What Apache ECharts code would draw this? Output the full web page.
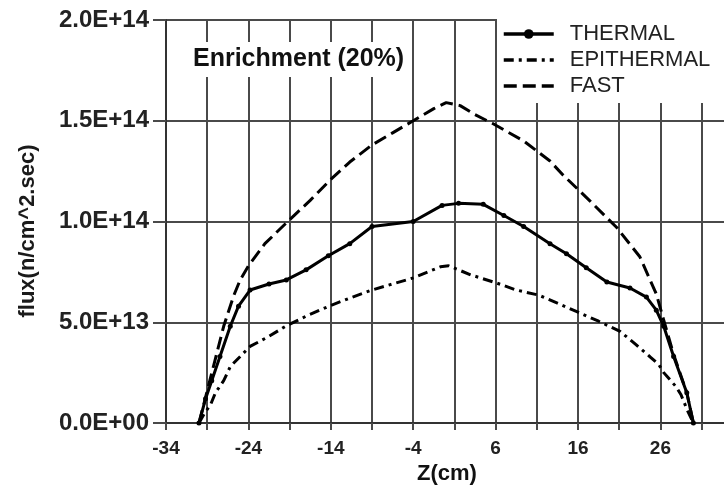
<!DOCTYPE html>
<html>
<head>
<meta charset="utf-8">
<title>Enrichment (20%)</title>
<script src="https://cdn.jsdelivr.net/npm/echarts@6/dist/echarts.min.js"></script>
<style>
  html, body { margin: 0; padding: 0; background: #fff; }
  #chart { width: 724px; height: 491px; }
</style>
</head>
<body>
<div id="chart"></div>
<script>
// flux values are in units of 1E+13 n/cm^2.sec
const thermalZ = [-30, -29.2, -28.45, -27.45, -26.2, -25.2, -23.8, -21.5, -19.4, -17, -14.3, -11.7, -9, -4, -0.5, 1.5, 4.5, 7, 9.4, 12.6, 14.6, 17, 19.5, 22.3, 24.3, 25.5, 26.4, 27.6, 29.2, 30]
const thermalFlux = [0, 1.2, 2.1, 3.3, 4.8, 5.8, 6.6, 6.9, 7.1, 7.6, 8.3, 8.9, 9.75, 10.0, 10.8, 10.9, 10.85, 10.3, 9.75, 8.9, 8.4, 7.7, 7.0, 6.7, 6.25, 5.6, 4.8, 3.3, 1.5, 0]

const epiZ = [-30, -29.3, -28.6, -28, -27, -26.2, -23.8, -21.5, -19.5, -17, -14.2, -11.7, -9, -4, -0.7, 0.3, 3, 6.1, 8.5, 11.2, 13.5, 16, 18.5, 21.1, 23, 24.7, 25.8, 26.4, 27.9, 28.5, 29.3, 30]
const epiFlux = [0, 0.5, 0.9, 1.5, 2.1, 2.8, 3.8, 4.3, 4.8, 5.3, 5.8, 6.2, 6.6, 7.2, 7.75, 7.8, 7.35, 6.95, 6.6, 6.35, 5.95, 5.5, 5.05, 4.55, 3.9, 3.3, 2.9, 2.5, 1.8, 1.4, 0.6, 0]

const fastZ = [-30, -29, -28, -27, -25.8, -25, -24, -22, -19.1, -16.5, -14.1, -11.7, -9, -6.5, -4, -1.5, 0, 1.7, 3.5, 5.7, 9.4, 12.6, 14.2, 17.5, 20.7, 23.5, 25.5, 26.4, 27.6, 29.2, 30]
const fastFlux = [0, 1.6, 3.2, 4.8, 6.3, 7.1, 7.8, 8.9, 10.05, 11.05, 12.05, 12.95, 13.8, 14.4, 15.0, 15.6, 15.9, 15.75, 15.3, 14.85, 14.0, 13.0, 12.3, 11.0, 9.7, 8.25, 6.4, 5.1, 3.4, 1.5, 0]

const xTickLabels = [-34, -24, -14, -4, 6, 16, 26]
const yTickLabels = ['0.0E+00', '5.0E+13', '1.0E+14', '1.5E+14', '2.0E+14']

// the axis starts at -34, so shift z by 34 to keep the 5 cm grid lined up with min
const Z_OFFSET = 34
const Z_MAX = 34.2

const pairs = (zs, fs) => zs.map((z, i) => [z + Z_OFFSET, fs[i]])

const FONT = 'Arial, "Liberation Sans", sans-serif'
const gridLine = { color: '#4a4a4a', width: 2 }

const chart = echarts.init(document.getElementById('chart'), null, { renderer: 'canvas' })
chart.setOption({
  animation: false,
  backgroundColor: '#fff',
  title: {
    text: 'Enrichment (20%)',
    left: 189,
    top: 42,
    padding: [5, 4, 5, 4],
    backgroundColor: '#fff',
    textStyle: { fontFamily: FONT, fontSize: 25, fontWeight: 'bold', color: '#111' }
  },
  legend: {
    orient: 'vertical',
    left: 497,
    top: 19,
    padding: [4, 60, 6, 5],
    backgroundColor: '#fff',
    itemWidth: 50,
    itemHeight: 12,
    itemGap: 4,
    lineStyle: { width: 3.5 },
    textStyle: { fontFamily: FONT, fontSize: 22, color: '#222', lineHeight: 20, padding: [0, 0, 0, 11] },
    data: [
      { name: 'THERMAL' },
      { name: 'EPITHERMAL', itemStyle: { opacity: 0 } },
      { name: 'FAST', itemStyle: { opacity: 0 } }
    ]
  },
  grid: {
    left: 166,
    right: -4,
    top: 20,
    bottom: 68,
    outerBoundsMode: 'none',
    containLabel: false
  },
  xAxis: {
    type: 'value',
    min: 0,
    max: Z_MAX + Z_OFFSET,
    interval: 5,
    name: 'Z(cm)',
    nameLocation: 'middle',
    nameGap: 39,
    nameTextStyle: { fontFamily: FONT, fontSize: 22, fontWeight: 'bold', color: '#111' },
    axisLine: { lineStyle: { color: '#333', width: 2 } },
    axisTick: { show: true, length: 7, lineStyle: gridLine },
    splitLine: { show: true, lineStyle: gridLine },
    axisLabel: {
      margin: 16,
      fontFamily: FONT,
      fontSize: 19,
      fontWeight: 'bold',
      color: '#222',
      formatter: v => xTickLabels.includes(v - Z_OFFSET) ? String(v - Z_OFFSET) : ''
    }
  },
  yAxis: {
    type: 'value',
    min: 0,
    max: 20,
    interval: 5,
    axisLine: { show: true, lineStyle: { color: '#333', width: 2 } },
    axisTick: { show: true, length: 13, lineStyle: gridLine },
    splitLine: { show: true, lineStyle: gridLine },
    axisLabel: {
      margin: 17,
      fontFamily: FONT,
      fontSize: 24,
      fontWeight: 'bold',
      color: '#222',
      formatter: v => yTickLabels[Math.round(v / 5)]
    }
  },
  graphic: [{
    type: 'text',
    x: 28,
    y: 231,
    rotation: Math.PI / 2,
    style: {
      text: 'flux(n/cm^2.sec)',
      fontFamily: FONT,
      fontSize: 22,
      fontWeight: 'bold',
      fill: '#1a1a1a',
      textAlign: 'center',
      textVerticalAlign: 'middle'
    }
  }],
  series: [
    {
      name: 'THERMAL',
      type: 'line',
      data: pairs(thermalZ, thermalFlux),
      symbol: 'circle',
      symbolSize: 5,
      itemStyle: { color: '#000' },
      lineStyle: { color: '#000', width: 3 }
    },
    {
      name: 'EPITHERMAL',
      type: 'line',
      data: pairs(epiZ, epiFlux),
      symbol: 'none',
      itemStyle: { color: '#000' },
      lineStyle: { color: '#000', width: 3, type: [10, 5, 3, 5] }
    },
    {
      name: 'FAST',
      type: 'line',
      data: pairs(fastZ, fastFlux),
      symbol: 'none',
      itemStyle: { color: '#000' },
      lineStyle: { color: '#000', width: 3, type: [13, 6] }
    }
  ]
})
</script>
</body>
</html>
